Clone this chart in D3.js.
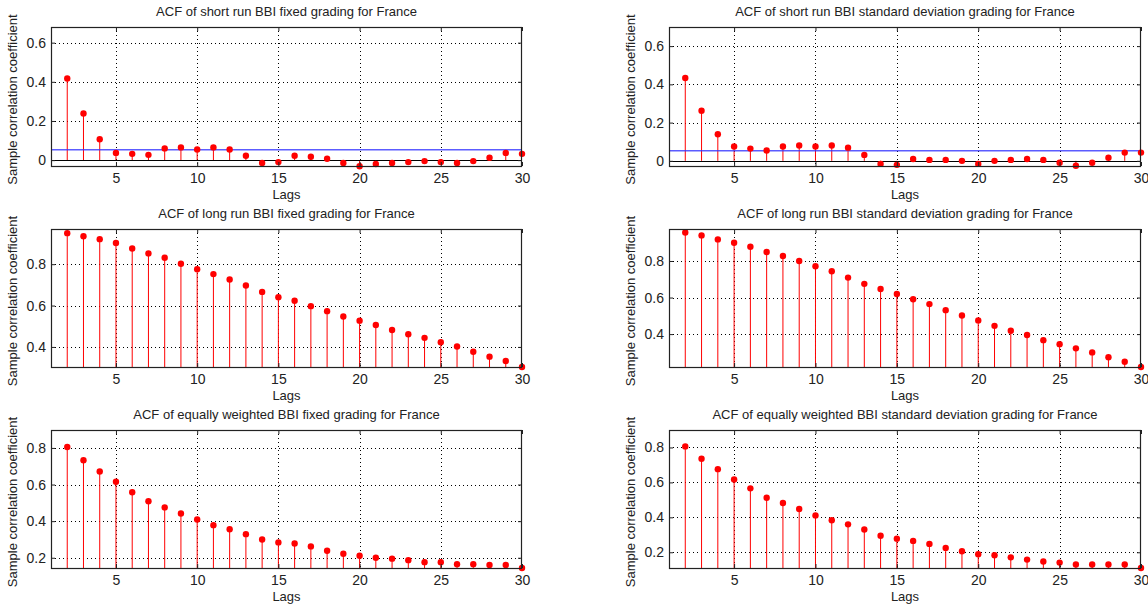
<!DOCTYPE html>
<html>
<head>
<meta charset="utf-8">
<script src="https://cdn.jsdelivr.net/npm/d3@7"></script>
<style>
  html, body { margin: 0; padding: 0; background: #ffffff; }
  svg { display: block; }
  text { font-family: "Liberation Sans", Arial, Helvetica, sans-serif; fill: #222; }
</style>
</head>
<body>
<svg id="fig" width="1148" height="606"></svg>
<script>
// Lags shown on every panel
const lags = d3.range(2, 31);
const xTicks = [5, 10, 15, 20, 25, 30];

// Autocorrelation coefficients, lags 2..30
const shortFixed = [0.417, 0.238, 0.107, 0.037, 0.032, 0.027, 0.060, 0.065, 0.054, 0.065,
  0.054, 0.022, -0.015, -0.010, 0.022, 0.017, 0.007, -0.015, -0.031, -0.020,
  -0.015, -0.010, -0.005, -0.010, -0.015, -0.005, 0.012, 0.037, 0.032];
const shortStd = [0.433, 0.262, 0.139, 0.075, 0.064, 0.054, 0.075, 0.080, 0.075, 0.080,
  0.069, 0.031, -0.016, -0.021, 0.010, 0.005, 0.005, 0.000, -0.016, 0.000,
  0.005, 0.010, 0.005, -0.010, -0.026, -0.010, 0.016, 0.043, 0.043];
const longFixed = [0.950, 0.935, 0.921, 0.902, 0.876, 0.852, 0.831, 0.802, 0.776, 0.752,
  0.726, 0.697, 0.666, 0.640, 0.623, 0.597, 0.573, 0.547, 0.527, 0.506,
  0.482, 0.461, 0.444, 0.423, 0.402, 0.377, 0.353, 0.332, 0.303];
const longStd = [0.956, 0.940, 0.918, 0.900, 0.878, 0.849, 0.827, 0.800, 0.771, 0.744,
  0.709, 0.675, 0.647, 0.620, 0.591, 0.564, 0.531, 0.502, 0.475, 0.445,
  0.418, 0.395, 0.367, 0.345, 0.322, 0.300, 0.273, 0.249, 0.220];
const equalFixed = [0.805, 0.733, 0.671, 0.615, 0.558, 0.509, 0.475, 0.442, 0.409, 0.378,
  0.356, 0.329, 0.300, 0.284, 0.278, 0.262, 0.238, 0.222, 0.211, 0.200,
  0.195, 0.187, 0.176, 0.176, 0.165, 0.165, 0.160, 0.160, 0.144];
const equalStd = [0.806, 0.735, 0.676, 0.617, 0.566, 0.512, 0.482, 0.448, 0.411, 0.383,
  0.360, 0.330, 0.295, 0.278, 0.265, 0.248, 0.225, 0.206, 0.189, 0.183,
  0.171, 0.158, 0.147, 0.141, 0.130, 0.130, 0.130, 0.130, 0.110];

// Significance bound drawn on the short-run panels
const confBound = 0.053;

// Panel titles
const titles = [
  "ACF of short run BBI fixed grading for France",
  "ACF of short run BBI standard deviation grading for France",
  "ACF of long run BBI fixed grading for France",
  "ACF of long run BBI standard deviation grading for France",
  "ACF of equally weighted BBI fixed grading for France",
  "ACF of equally weighted BBI standard deviation grading for France"
];

// y-axis limits and tick values per panel
const yLimits = [[-0.030, 0.680], [-0.027, 0.700], [0.303, 0.970], [0.220, 0.975], [0.144, 0.898], [0.110, 0.900]];
const yTickSets = [[0, 0.2, 0.4, 0.6], [0, 0.2, 0.4, 0.6], [0.4, 0.6, 0.8], [0.4, 0.6, 0.8], [0.2, 0.4, 0.6, 0.8], [0.2, 0.4, 0.6, 0.8]];

const series = [shortFixed, shortStd, longFixed, longStd, equalFixed, equalStd];
const showBound = [true, true, false, false, false, false];

// Axes boxes (grid of 3 rows x 2 columns)
const cols = [{ x0: 51, x1: 522 }, { x0: 669, x1: 1141 }];
const rows = [{ y0: 27, y1: 166 }, { y0: 229, y1: 367 }, { y0: 430, y1: 568 }];

const svg = d3.select("#fig");

series.forEach((vals, i) => {
  const c = cols[i % 2], r = rows[Math.floor(i / 2)];
  const x = d3.scaleLinear().domain([1, 30]).range([c.x0, c.x1]);
  const y = d3.scaleLinear().domain(yLimits[i]).range([r.y1, r.y0]);
  const g = svg.append("g");
  const pts = lags.map((l, k) => ({ lag: l, v: vals[k] }));

  // dotted grid
  g.append("g").selectAll("line").data(xTicks.filter(t => t < 30)).join("line")
    .attr("x1", d => Math.round(x(d)) + 0.5).attr("x2", d => Math.round(x(d)) + 0.5)
    .attr("y1", r.y0).attr("y2", r.y1)
    .attr("stroke", "#000").attr("stroke-width", 1)
    .attr("stroke-dasharray", "1,3");
  g.append("g").selectAll("line").data(yTickSets[i]).join("line")
    .attr("x1", c.x0).attr("x2", c.x1)
    .attr("y1", d => Math.round(y(d)) + 0.5).attr("y2", d => Math.round(y(d)) + 0.5)
    .attr("stroke", "#000").attr("stroke-width", 1)
    .attr("stroke-dasharray", "1,3");

  // clip region for stems
  const clipId = "clip" + i;
  g.append("clipPath").attr("id", clipId).append("rect")
    .attr("x", c.x0).attr("y", r.y0).attr("width", c.x1 - c.x0).attr("height", r.y1 - r.y0);

  const inner = g.append("g").attr("clip-path", `url(#${clipId})`);

  // stems from zero baseline
  inner.selectAll("line.stem").data(pts).join("line")
    .attr("class", "stem")
    .attr("x1", d => x(d.lag)).attr("x2", d => x(d.lag))
    .attr("y1", y(0)).attr("y2", d => y(d.v))
    .attr("stroke", "#ff0000").attr("stroke-width", 1);

  // zero baseline
  if (yLimits[i][0] < 0) {
    inner.append("line")
      .attr("x1", c.x0).attr("x2", c.x1)
      .attr("y1", Math.round(y(0)) + 0.5).attr("y2", Math.round(y(0)) + 0.5)
      .attr("stroke", "#000").attr("stroke-width", 1);
  }

  // significance bound
  if (showBound[i]) {
    inner.append("line")
      .attr("x1", c.x0).attr("x2", c.x1)
      .attr("y1", y(confBound)).attr("y2", y(confBound))
      .attr("stroke", "#3333ff").attr("stroke-width", 1.6).attr("stroke-opacity", 0.8);
  }

  // markers
  g.append("g").selectAll("circle").data(pts).join("circle")
    .attr("cx", d => x(d.lag)).attr("cy", d => y(d.v)).attr("r", 3.2)
    .attr("fill", "#ff0000");

  // axes via d3 (inward ticks, box outline)
  const xAxis = d3.axisBottom(x).tickValues(xTicks).tickSize(-4).tickPadding(7).tickFormat(d3.format("d"));
  const yAxis = d3.axisLeft(y).tickValues(yTickSets[i]).tickSize(-4).tickPadding(5)
    .tickFormat(d => d === 0 ? "0" : d3.format(".1f")(d));
  const xTop = d3.axisTop(x).tickValues(xTicks).tickSize(-4).tickFormat("");
  const yRight = d3.axisRight(y).tickValues(yTickSets[i]).tickSize(-4).tickFormat("");

  const styleAxis = sel => {
    sel.select(".domain").remove();
    sel.selectAll(".tick line").attr("stroke", "#222");
    sel.selectAll(".tick text").attr("font-size", 14).attr("fill", "#222")
      .attr("font-family", "'Liberation Sans', Arial, sans-serif");
  };
  g.append("g").attr("transform", `translate(0,${r.y1})`).call(xAxis).call(styleAxis);
  g.append("g").attr("transform", `translate(${c.x0},0)`).call(yAxis).call(styleAxis);
  g.append("g").attr("transform", `translate(0,${r.y0})`).call(xTop).call(styleAxis);
  g.append("g").attr("transform", `translate(${c.x1},0)`).call(yRight).call(styleAxis);

  // box
  g.append("rect")
    .attr("x", c.x0 + 0.5).attr("y", r.y0 + 0.5)
    .attr("width", c.x1 - c.x0 - 1).attr("height", r.y1 - r.y0)
    .attr("fill", "none").attr("stroke", "#222").attr("stroke-width", 1.2);

  // title and axis labels
  const cx = (c.x0 + c.x1) / 2;
  g.append("text").attr("x", cx).attr("y", r.y0 - 11)
    .attr("text-anchor", "middle").attr("font-size", 13).text(titles[i]);
  g.append("text").attr("x", cx).attr("y", r.y1 + 33)
    .attr("text-anchor", "middle").attr("font-size", 13).text("Lags");
  g.append("text")
    .attr("transform", `translate(${c.x0 - 34},${(r.y0 + r.y1) / 2 + 3}) rotate(-90)`)
    .attr("text-anchor", "middle").attr("font-size", 13).text("Sample correlation coefficient");
});
</script>
</body>
</html>
